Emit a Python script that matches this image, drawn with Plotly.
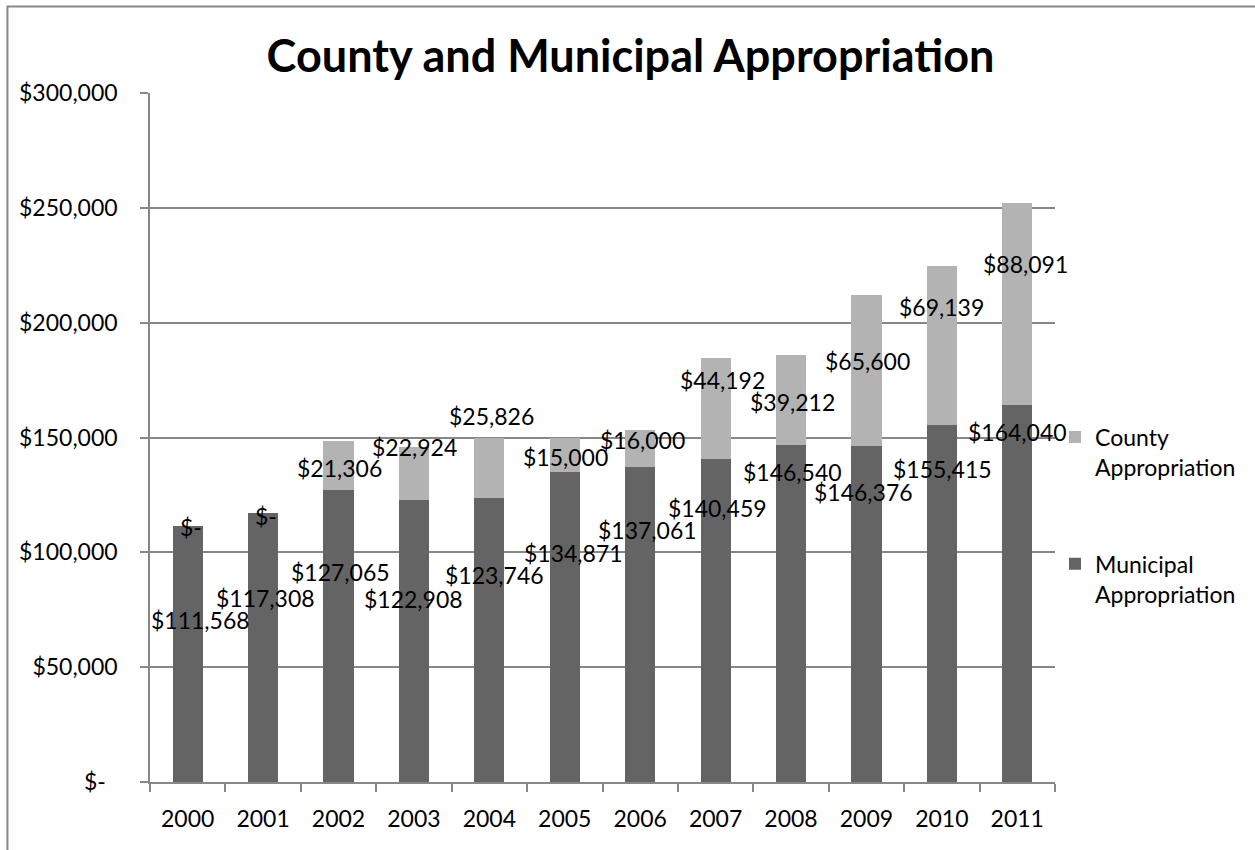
import plotly.graph_objects as go

# Appropriation amounts by year (US dollars)
years = ["2000", "2001", "2002", "2003", "2004", "2005",
         "2006", "2007", "2008", "2009", "2010", "2011"]
municipal = [111568, 117308, 127065, 122908, 123746, 134871,
             137061, 140459, 146540, 146376, 155415, 164040]
county = [0, 0, 21306, 22924, 25826, 15000,
          16000, 44192, 39212, 65600, 69139, 88091]

# Where each value label sits (axis units) and its sideways nudge (px)
municipal_label_at = [70500, 80100, 91400, 79600, 90100, 99700,
                      109700, 119300, 135000, 126200, 136300, 152400]
municipal_label_dx = [13, 2, 2, 0, 5, 9, 7, 2, 1, -3, 1, 0]
county_label_at = [111000, 115800, 136700, 145900, 159400, 141500,
                   148900, 175100, 165500, 183300, 206900, 225600]
county_label_dx = [3, 3, 1, 1, 2, 1, 2, 7, 1, 1, 0, 8]

y_ticks = [0, 50000, 100000, 150000, 200000, 250000, 300000]

FONT = "Lato"
GRID = "#878787"
DARK = "#646464"
LIGHT = "#b3b3b3"


def money(v):
    return "$-" if v == 0 else "${:,}".format(v)


fig = go.Figure()
fig.add_trace(go.Bar(
    x=years, y=municipal, name="Municipal<br>Appropriation",
    marker=dict(color=DARK, line=dict(width=0)),
    legendgroup="m", legendrank=2, hoverinfo="skip",
))
fig.add_trace(go.Bar(
    x=years, y=county, name="County<br>Appropriation",
    marker=dict(color=LIGHT, line=dict(width=0)),
    legendgroup="c", legendrank=1, hoverinfo="skip",
))

# Value labels; x is the category index on the year axis
annotations = []
for i, (v, pos, dx) in enumerate(zip(municipal, municipal_label_at, municipal_label_dx)):
    annotations.append(dict(x=i, y=pos, text=money(v), showarrow=False,
                            xshift=dx, font=dict(family=FONT, size=23, color="black")))
for i, (v, pos, dx) in enumerate(zip(county, county_label_at, county_label_dx)):
    annotations.append(dict(x=i, y=pos, text=money(v), showarrow=False,
                            xshift=dx, font=dict(family=FONT, size=23, color="black")))

# Chart-area frame
shapes = [dict(type="rect", xref="paper", yref="paper",
               x0=-0.1575, x1=1.25, y0=-0.2, y1=1.1254,
               line=dict(color=GRID, width=2), layer="below")]

fig.update_layout(
    width=1255, height=850,
    margin=dict(l=150, r=200, t=93, b=68),
    paper_bgcolor="white", plot_bgcolor="white",
    barmode="stack", bargap=0.6,
    font=dict(family=FONT, size=23, color="black"),
    title=dict(text="<b>County and Municipal Appropriation</b>",
               font=dict(family=FONT, size=45, color="black"),
               x=0.5024, xref="container", xanchor="center",
               y=1 - 56 / 850, yref="container", yanchor="middle"),
    xaxis=dict(type="category", range=[-0.5, 11.5], showgrid=False, showline=True,
               linecolor=GRID, linewidth=2, ticks="outside",
               tickson="boundaries", ticklen=8, tickcolor=GRID, tickwidth=1.5,
               tickfont=dict(family=FONT, size=23, color="black"),
               ticklabelstandoff=15, zeroline=False),
    yaxis=dict(range=[0, 300000], tickvals=y_ticks,
               ticktext=[money(v) + ("\u00a0\u00a0" if v == 0 else "") for v in y_ticks],
               showgrid=True, gridcolor=GRID, gridwidth=1.5,
               showline=True, linecolor=GRID, linewidth=1.5,
               ticks="outside", ticklen=8, tickcolor=GRID, tickwidth=1.5,
               tickfont=dict(family=FONT, size=23, color="black"),
               ticklabelstandoff=18, zeroline=False),
    legend=dict(x=1.0, xanchor="left", y=0.532, yanchor="top",
                yref="paper", valign="top", traceorder="grouped",
                tracegroupgap=64, font=dict(family=FONT, size=23, color="black"),
                bgcolor="rgba(0,0,0,0)"),
    annotations=annotations,
    shapes=shapes,
)

fig.write_html("out.html")
